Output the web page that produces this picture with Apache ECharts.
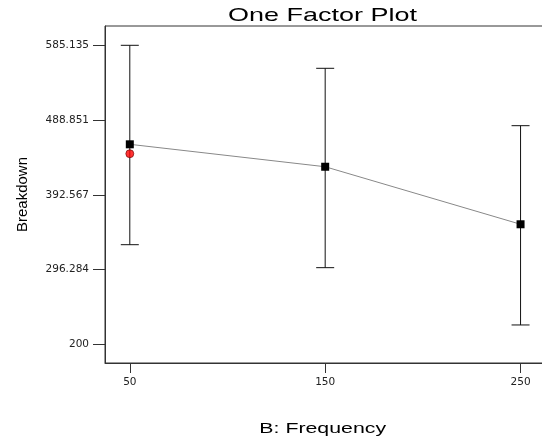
<!DOCTYPE html>
<html><head><meta charset="utf-8">
<script src="https://cdn.jsdelivr.net/npm/echarts@6/dist/echarts.min.js"></script>
<style>html,body{margin:0;padding:0;background:#fff}#c{width:542px;height:442px}</style>
</head><body><div id="c"></div>
<script>
const categories = [50, 150, 250];
const means = [457.6, 428.7, 354.6];
const lower = [328.3, 298.7, 224.9];
const upper = [585.135, 555.5, 481.6];
const designPoints = [[50, 445.5]];
const yTicks = [200, 296.284, 392.567, 488.851, 585.135];
const xTicks = [50, 150, 250];
const titleText = 'One Factor Plot';
const xName = 'B: Frequency';
const yName = 'Breakdown';

const chart = echarts.init(document.getElementById('c'));
const font = 'Liberation Sans, Arial, sans-serif';
const tickFont = 'DejaVu Sans, sans-serif';
chart.setOption({
  animation: false,
  graphic: [
    {type: 'text', x: 322.5, y: 15.5, scaleX: 1.42, z: 10,
     style: {text: titleText, font: '19px ' + font, fill: '#000', align: 'center', verticalAlign: 'middle'}},
    {type: 'text', x: 322.7, y: 429, scaleX: 1.42, z: 10,
     style: {text: xName, font: '15px ' + font, fill: '#000', align: 'center', verticalAlign: 'middle'}}
  ],
  grid: {left: 105, right: -2, top: 26, bottom: 79, outerBoundsMode: 'none', containLabel: false,
    show: true, borderColor: '#333', borderWidth: 1, backgroundColor: 'transparent'},
  xAxis: {type: 'value', min: 37.3, max: 262,
    axisLine: {lineStyle: {color: '#333', width: 1}},
    axisTick: {customValues: xTicks, length: 10, lineStyle: {color: '#333'}},
    axisLabel: {customValues: xTicks, fontFamily: tickFont, fontSize: 10.5, color: '#222', margin: 14},
    splitLine: {show: false}},
  yAxis: {type: 'value', min: 175.9, max: 610,
    name: yName, nameLocation: 'middle', nameGap: 75, nameRotate: 90,
    nameTextStyle: {fontFamily: font, fontSize: 15, color: '#000'},
    axisLine: {show: true, lineStyle: {color: '#333', width: 1}},
    axisTick: {show: true, customValues: yTicks, length: 12, lineStyle: {color: '#333'}},
    axisLabel: {customValues: yTicks, fontFamily: tickFont, fontSize: 10.5, color: '#222', margin: 16,
      formatter: v => String(v)},
    splitLine: {show: false}},
  series: [
    {type: 'custom',
     data: categories.map((c, i) => [c, lower[i], upper[i]]),
     renderItem: function (params, api) {
       const x = api.value(0);
       const lo = api.coord([x, api.value(1)]);
       const hi = api.coord([x, api.value(2)]);
       const w = 9;
       const st = {stroke: '#111', lineWidth: 1};
       return {type: 'group', children: [
         {type: 'line', shape: {x1: lo[0], y1: lo[1], x2: hi[0], y2: hi[1]}, style: st},
         {type: 'line', shape: {x1: lo[0] - w, y1: lo[1], x2: lo[0] + w, y2: lo[1]}, style: st},
         {type: 'line', shape: {x1: hi[0] - w, y1: hi[1], x2: hi[0] + w, y2: hi[1]}, style: st}
       ]};
     }, z: 2},
    {type: 'line', data: categories.map((c, i) => [c, means[i]]),
     symbol: 'rect', symbolSize: 8, itemStyle: {color: '#000'},
     lineStyle: {color: '#888', width: 1}, z: 3},
    {type: 'scatter', data: designPoints, symbol: 'circle', symbolSize: 8,
     itemStyle: {color: '#ff0000', borderColor: '#600', borderWidth: 0.8}, z: 4}
  ]
});
</script></body></html>
